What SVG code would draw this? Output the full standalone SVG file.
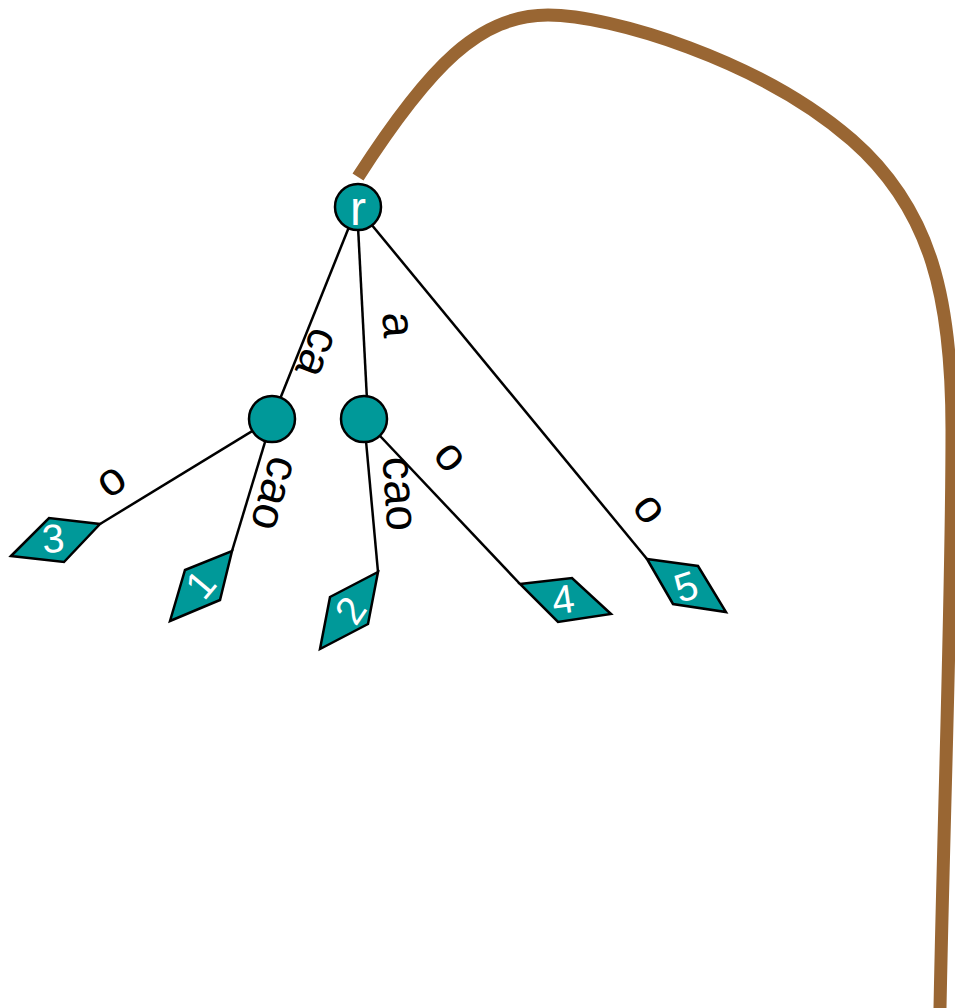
<svg xmlns="http://www.w3.org/2000/svg" width="955" height="1008" viewBox="0 0 955 1008">
<style>
.edge{stroke:#000;stroke-width:2.5;fill:none}
.node{fill:#009999;stroke:#000;stroke-width:2.5}
.lbl{font-family:"Liberation Sans",Arial,sans-serif;font-size:46px;fill:#000;text-anchor:middle}
.num{font-family:"Liberation Sans",Arial,sans-serif;font-size:40px;fill:#fff;text-anchor:middle}
</style>
<rect width="955" height="1008" fill="#fff"/>
<path d="M358,177 C430,65 480,15 548,15 C610,15 760,60 852,140 C932,210 952,300 952,430 C952,600 944,800 940,1008" stroke="#996633" stroke-width="13" fill="none"/>
<g id="connectors">
<line class="edge" x1="357" y1="207" x2="272" y2="419"/>
<line class="edge" x1="357" y1="207" x2="367" y2="400"/>
<line class="edge" x1="357" y1="207" x2="647" y2="559"/>
<line class="edge" x1="272" y1="419" x2="100" y2="524"/>
<line class="edge" x1="272" y1="419" x2="232" y2="551"/>
<line class="edge" x1="364" y1="419" x2="378" y2="572"/>
<line class="edge" x1="364" y1="419" x2="520" y2="584"/>
<g transform="translate(315,352) rotate(112)"><text class="lbl" y="12">ca</text></g>
<g transform="translate(395,325) rotate(86)"><text class="lbl" y="12">a</text></g>
<g transform="translate(272,493) rotate(106)"><text class="lbl" y="12">cao</text></g>
<g transform="translate(397,494) rotate(86)"><text class="lbl" y="12">cao</text></g>
<g transform="translate(112,482) rotate(146)"><text class="lbl" y="12">o</text></g>
<g transform="translate(449,458) rotate(51)"><text class="lbl" y="12">o</text></g>
<g transform="translate(648,510) rotate(54)"><text class="lbl" y="12">o</text></g>
</g>
<g id="root">
<circle class="node" cx="358" cy="207" r="23"/>
<text x="358" y="225" font-family="Liberation Sans,Arial,sans-serif" font-size="48" fill="#fff" text-anchor="middle">r</text>
</g>
<g id="n-ca"><circle class="node" cx="272" cy="419" r="23"/></g>
<g id="n-a"><circle class="node" cx="364" cy="419" r="23"/></g>
<g id="leaf3">
<polygon class="node" points="11,556 49,518 100,524 64,562"/>
<g transform="translate(53,538) rotate(-5)"><text class="num" dy="0.36em">3</text></g>
</g>
<g id="leaf1">
<polygon class="node" points="170,621 185,570 232,551 220,600"/>
<g transform="translate(200,584) rotate(-50)"><text class="num" dy="0.36em">1</text></g>
</g>
<g id="leaf2">
<polygon class="node" points="320,649 330,597 378,572 368,624"/>
<g transform="translate(350,610) rotate(-56)"><text class="num" dy="0.36em">2</text></g>
</g>
<g id="leaf4">
<polygon class="node" points="520,584 572,578 611,614 558,622"/>
<g transform="translate(563,599) rotate(-8)"><text class="num" dy="0.36em">4</text></g>
</g>
<g id="leaf5">
<polygon class="node" points="647,559 698,566 726,612 673,604"/>
<g transform="translate(686,586) rotate(-18)"><text class="num" dy="0.36em">5</text></g>
</g>
</svg>
